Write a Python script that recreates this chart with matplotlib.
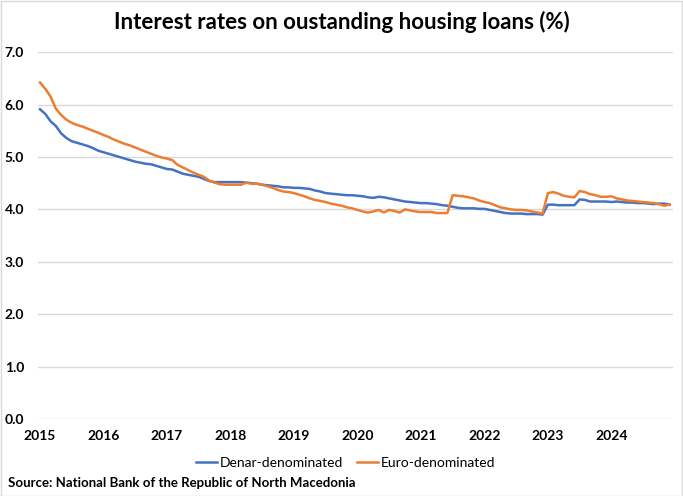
import numpy as np
import matplotlib
matplotlib.use("Agg")
import matplotlib.pyplot as plt
from matplotlib.patches import Rectangle

plt.rcParams['font.family'] = ['Lato', 'DejaVu Sans']

# monthly values, Jan 2015 - Dec 2024 (one row per year)
denar = [
    5.91, 5.82, 5.68, 5.59, 5.45, 5.36, 5.30, 5.27, 5.24, 5.21, 5.17, 5.12,
    5.09, 5.06, 5.03, 5.00, 4.97, 4.94, 4.91, 4.89, 4.87, 4.86, 4.83, 4.80,
    4.77, 4.76, 4.72, 4.68, 4.66, 4.64, 4.62, 4.58, 4.54, 4.52, 4.52, 4.52,
    4.52, 4.52, 4.52, 4.51, 4.50, 4.49, 4.47, 4.46, 4.45, 4.44, 4.42, 4.42,
    4.41, 4.41, 4.40, 4.39, 4.36, 4.34, 4.31, 4.30, 4.29, 4.28, 4.27, 4.27,
    4.26, 4.25, 4.23, 4.22, 4.24, 4.23, 4.21, 4.19, 4.17, 4.15, 4.14, 4.13,
    4.12, 4.12, 4.11, 4.10, 4.08, 4.07, 4.05, 4.03, 4.02, 4.02, 4.02, 4.01,
    4.01, 3.99, 3.97, 3.95, 3.93, 3.92, 3.92, 3.92, 3.91, 3.91, 3.91, 3.90,
    4.09, 4.09, 4.08, 4.08, 4.08, 4.08, 4.19, 4.18, 4.15, 4.15, 4.15, 4.15,
    4.14, 4.15, 4.14, 4.13, 4.13, 4.12, 4.12, 4.11, 4.10, 4.11, 4.11, 4.09,
]
euro = [
    6.42, 6.30, 6.15, 5.92, 5.80, 5.71, 5.65, 5.61, 5.58, 5.54, 5.50, 5.46,
    5.42, 5.38, 5.33, 5.29, 5.25, 5.22, 5.18, 5.14, 5.10, 5.06, 5.02, 4.99,
    4.97, 4.94, 4.85, 4.80, 4.75, 4.70, 4.66, 4.62, 4.55, 4.51, 4.48, 4.47,
    4.47, 4.47, 4.47, 4.51, 4.49, 4.49, 4.47, 4.44, 4.41, 4.37, 4.34, 4.33,
    4.31, 4.28, 4.25, 4.21, 4.18, 4.16, 4.14, 4.11, 4.09, 4.07, 4.04, 4.02,
    3.99, 3.96, 3.94, 3.96, 3.99, 3.94, 3.99, 3.97, 3.94, 4.00, 3.98, 3.96,
    3.95, 3.95, 3.95, 3.93, 3.93, 3.93, 4.27, 4.26, 4.25, 4.23, 4.21, 4.17,
    4.14, 4.12, 4.08, 4.04, 4.02, 4.00, 3.99, 3.99, 3.98, 3.96, 3.94, 3.92,
    4.31, 4.33, 4.30, 4.26, 4.24, 4.23, 4.35, 4.33, 4.29, 4.27, 4.24, 4.24,
    4.25, 4.21, 4.19, 4.17, 4.16, 4.15, 4.14, 4.13, 4.12, 4.10, 4.07, 4.09,
]
years = ['2015', '2016', '2017', '2018', '2019', '2020', '2021', '2022', '2023', '2024']
y_ticks = [0, 1, 2, 3, 4, 5, 6, 7]

months = np.arange(len(denar))

fig = plt.figure(figsize=(6.83, 4.96), dpi=100)
ax = fig.add_axes([0.0556, 0.155, 0.9294, 0.74])

ax.plot(months, denar, color='#4472C4', lw=1.8, label='Denar-denominated')
ax.plot(months, euro, color='#ED7D31', lw=1.8, label='Euro-denominated')

ax.set_xlim(-0.38, 119.6)
ax.set_ylim(0, 7)
ax.set_yticks(y_ticks)
ax.set_yticklabels([f'{v:.1f}' for v in y_ticks], fontsize=10, fontweight='bold')
ax.set_xticks(np.arange(0, len(denar), 12))
ax.set_xticklabels(years, fontsize=10, fontweight='bold')
ax.tick_params(length=0, pad=8)
ax.tick_params(axis='y', pad=10)
ax.grid(axis='y', color='#d9d9d9', lw=1)
ax.set_axisbelow(True)
for s in ax.spines.values():
    s.set_visible(False)

fig.text(0.5, 0.955, 'Interest rates on oustanding housing loans (%)',
         ha='center', va='center', fontsize=16, fontweight='bold')

ax.legend(loc='upper center', bbox_to_anchor=(0.485, -0.07), ncol=2, frameon=False,
          fontsize=10, handlelength=1.5, handletextpad=0.2, columnspacing=1.0)

fig.text(0.012, 0.027, 'Source: National Bank of the Republic of North Macedonia',
         ha='left', va='center', fontsize=9.5, fontweight='bold')

fig.patches.append(Rectangle((0.001, 0.001), 0.998, 0.997, transform=fig.transFigure,
                             fill=False, edgecolor='#d9d9d9', lw=1))

fig.savefig('out.png', dpi=100)
